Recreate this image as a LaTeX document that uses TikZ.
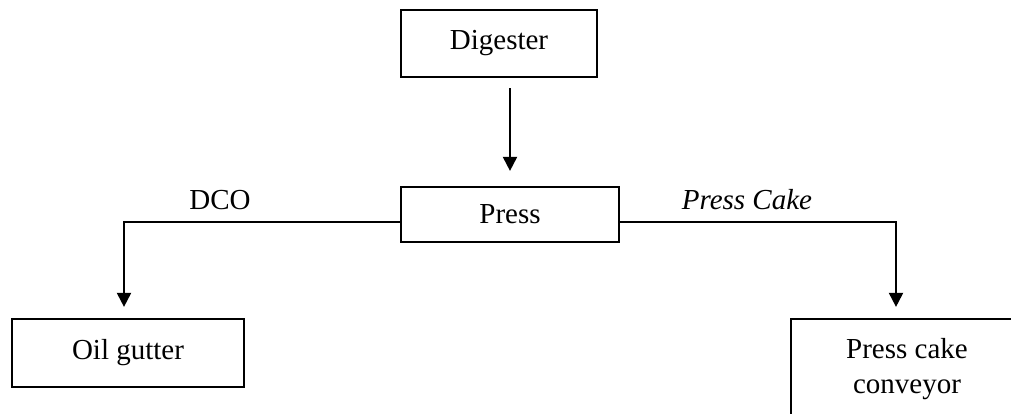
\documentclass[tikz,border=0pt]{standalone}
\usepackage{fontspec}
\setmainfont{Liberation Serif}
\usetikzlibrary{arrows.meta}
\begin{document}
\begin{tikzpicture}[x=1pt,y=-1pt,
  txt/.style={font=\fontsize{29}{35}\selectfont},
  box/.style={draw, line width=2.2pt, inner sep=0pt, txt, align=center},
  flow/.style={line width=2pt, -{Triangle[width=14pt,length=14pt]}},
  ]
\useasboundingbox (0,0) rectangle (1011,414);
\clip (0,0) rectangle (1011,414);
% process boxes
\node[box, minimum width=196pt, minimum height=67pt] (dig) at (499,43.5) {Digester};
\node[box, minimum width=218pt, minimum height=55pt] (press) at (510,214.5) {Press};
\node[box, minimum width=232pt, minimum height=68pt] (oil) at (128,353) {Oil gutter};
\node[box, minimum width=232pt, minimum height=101pt] (conv) at (907,369.5) {Press cake\\conveyor};
% stream labels
\node[txt] (dco) at (220,200) {DCO};
\node[txt, font=\fontsize{29}{35}\selectfont\itshape] (cake) at (747,200) {Press Cake};
% flows
\draw[flow, shorten <=10pt, shorten >=15pt] (press.north |- dig.south) -- (press.north);
\draw[flow, shorten >=11pt] ([yshift=-7.5pt]press.west) -| ([xshift=-4pt]oil.north);
\draw[flow, shorten >=11pt] ([yshift=-7.5pt]press.east) -| ([xshift=-11pt]conv.north);
\end{tikzpicture}
\end{document}
